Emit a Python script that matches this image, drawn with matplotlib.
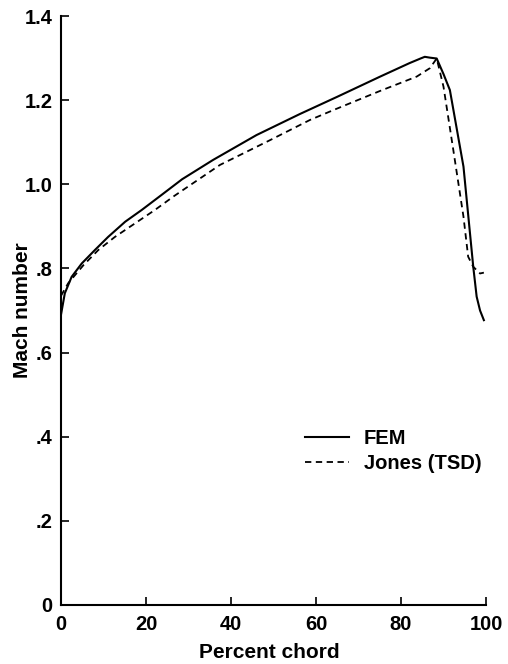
import matplotlib
matplotlib.use("Agg")
import matplotlib.pyplot as plt

plt.rcParams['font.family'] = ['Liberation Sans', 'DejaVu Sans']
plt.rcParams['font.weight'] = 'bold'

fem_x = [0, 0.9, 2.5, 4.9, 8.0, 11.1, 15.1, 19.0, 23.7, 28.5, 35.8, 46.0, 56.2, 65.0,
         75.1, 82.0, 84.6, 85.6, 86.8, 88.4, 90.0, 91.5, 94.7, 97.0, 97.8, 98.6, 99.5]
fem_y = [0.69, 0.741, 0.780, 0.812, 0.844, 0.875, 0.911, 0.939, 0.975, 1.012, 1.058,
         1.117, 1.167, 1.208, 1.256, 1.288, 1.299, 1.303, 1.301, 1.299, 1.262, 1.224,
         1.042, 0.804, 0.733, 0.70, 0.677]

jones_x = [0, 1.7, 5.3, 8.8, 12.7, 17.4, 22.1, 26.6, 37.4, 49.2, 58.6, 64.0, 75.1,
           83.7, 86.8, 88.4, 90.0, 92.3, 94.7, 95.8, 97.0, 98.6, 99.5]
jones_y = [0.735, 0.765, 0.808, 0.844, 0.875, 0.907, 0.939, 0.972, 1.046, 1.105, 1.153,
           1.176, 1.222, 1.256, 1.276, 1.299, 1.232, 1.082, 0.923, 0.828, 0.804, 0.788,
           0.79]

x_ticks = [0, 20, 40, 60, 80, 100]
y_ticks = [0, 0.2, 0.4, 0.6, 0.8, 1.0, 1.2, 1.4]
y_tick_labels = ['0', '.2', '.4', '.6', '.8', '1.0', '1.2', '1.4']

fig = plt.figure(figsize=(5.08, 6.64), dpi=100)
ax = fig.add_axes([61/508, 59/664, (486-61)/508, (605-16)/664])

ax.plot(fem_x, fem_y, color='black', lw=1.5, ls='-', label='FEM',
        solid_joinstyle='round')
ax.plot(jones_x, jones_y, color='black', lw=1.3, ls=(0, (3.5, 2.5)), label='Jones (TSD)')

ax.set_xlim(0, 100)
ax.set_ylim(0, 1.4)
ax.set_xticks(x_ticks)
ax.set_xticklabels([str(v) for v in x_ticks])
ax.set_yticks(y_ticks)
ax.set_yticklabels(y_tick_labels)
ax.tick_params(direction='in', length=6, width=1.2, labelsize=14.5, pad=6)
ax.tick_params(axis='x', pad=7)
for s in ['top', 'right']:
    ax.spines[s].set_visible(False)
for s in ['left', 'bottom']:
    ax.spines[s].set_linewidth(1.5)

ax.set_xlabel('Percent chord', fontsize=15, fontweight='bold')
ax.set_ylabel('Mach number', fontsize=15, fontweight='bold')
ax.xaxis.set_label_coords(0.49, -0.0645)
ax.yaxis.set_label_coords(-0.068, 0.5)

leg = ax.legend(loc='upper left', bbox_to_anchor=(0.532, 0.33), frameon=False,
                fontsize=14.5, handlelength=2.15, handletextpad=0.75, labelspacing=0.3)

fig.savefig('out.png', dpi=100)
